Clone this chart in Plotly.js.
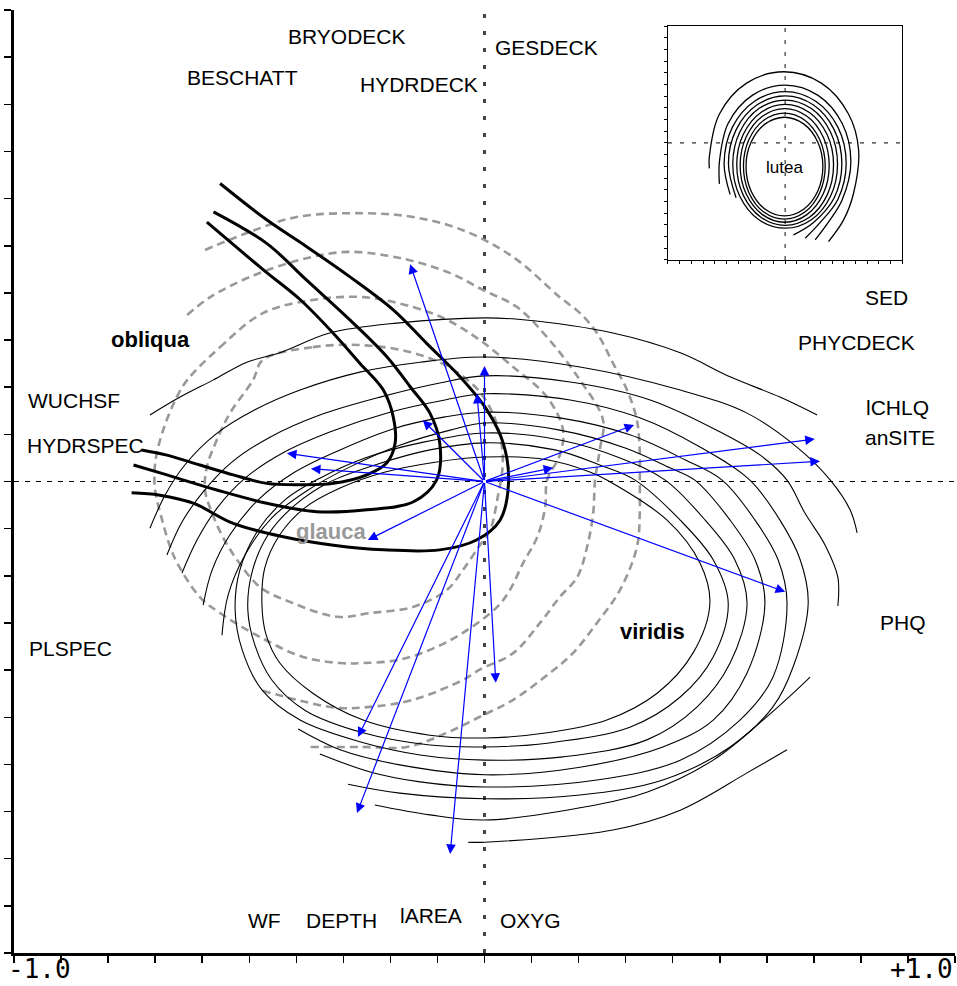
<!DOCTYPE html>
<html><head><meta charset="utf-8">
<script src="https://cdn.plot.ly/plotly-3.0.1.min.js"></script>
<style>html,body{margin:0;padding:0;background:#fff}#chart{width:957px;height:986px}</style>
</head><body><div id="chart"></div>
<script>
// ---------- obliqua (thick black response curves) ----------
const obliquaInnerX = [-0.590,-0.470,-0.392,-0.321,-0.265,-0.215,-0.194,-0.190,-0.208,-0.250,-0.321,-0.392,-0.463,-0.534,-0.605,-0.675,-0.729];
const obliquaInnerY = [0.550,0.449,0.386,0.314,0.251,0.194,0.137,0.081,0.039,0.014,-0.004,-0.007,-0.004,0.014,0.035,0.056,0.067];
const obliquaMidX = [-0.576,-0.463,-0.378,-0.279,-0.208,-0.158,-0.116,-0.095,-0.102,-0.151,-0.250,-0.357,-0.463,-0.569,-0.675,-0.746];
const obliquaMidY = [0.572,0.505,0.427,0.336,0.265,0.201,0.145,0.081,0.003,-0.043,-0.060,-0.064,-0.046,-0.018,0.014,0.035];
const obliquaOuterX = [-0.562,-0.463,-0.378,-0.286,-0.194,-0.123,-0.052,0.005,0.040,0.051,0.033,-0.017,-0.095,-0.215,-0.321,-0.428,-0.534,-0.619,-0.690,-0.750];
const obliquaOuterY = [0.632,0.555,0.498,0.434,0.364,0.293,0.222,0.152,0.081,-0.004,-0.082,-0.124,-0.145,-0.145,-0.135,-0.117,-0.089,-0.046,-0.029,-0.024];

// ---------- viridis (thin black contours) ----------
const viridis1TopX = [-0.711,-0.647,-0.577,-0.505,-0.435,-0.329,-0.186,0.001,0.082,0.273,0.416,0.522,0.628,0.707];
const viridis1TopY = [0.141,0.179,0.215,0.253,0.273,0.315,0.336,0.347,0.343,0.315,0.273,0.222,0.179,0.141];
const viridis1BotX = [-0.035,0.001,0.273,0.416,0.558,0.643];
const viridis1BotY = [-0.765,-0.765,-0.739,-0.697,-0.618,-0.569];
const viridis2TopX = [-0.711,-0.679,-0.637,-0.573,-0.488,-0.392,-0.265,-0.137,0.001,0.203,0.416,0.558,0.664,0.735,0.777,0.792];
const viridis2TopY = [-0.099,-0.029,0.035,0.099,0.152,0.194,0.232,0.253,0.264,0.243,0.194,0.145,0.073,0.003,-0.060,-0.109];
const viridis2BotX = [-0.233,-0.116,0.001,0.203,0.345,0.486,0.592,0.656,0.692];
const viridis2BotY = [-0.686,-0.707,-0.718,-0.692,-0.659,-0.591,-0.506,-0.449,-0.415];
const viridis3X = [-0.675,-0.643,-0.598,-0.537,-0.456,-0.350,-0.222,-0.095,0.001,0.182,0.352,0.501,0.586,0.643,0.681,0.724,0.751,0.751];
const viridis3Y = [-0.156,-0.086,-0.022,0.041,0.094,0.141,0.179,0.209,0.224,0.211,0.173,0.105,0.056,0.003,-0.067,-0.135,-0.203,-0.264];
const viridis4X = [-0.643,-0.611,-0.568,-0.509,-0.430,-0.329,-0.201,-0.084,0.001,0.182,0.330,0.458,0.564,0.628,0.671,0.688,0.656,0.613,0.522,0.379,0.203,0.001,-0.180,-0.290];
const viridis4Y = [-0.194,-0.124,-0.056,0.007,0.060,0.105,0.147,0.173,0.186,0.173,0.135,0.073,0.003,-0.082,-0.166,-0.258,-0.393,-0.478,-0.563,-0.633,-0.665,-0.673,-0.661,-0.642];
const viridis5X = [-0.598,-0.579,-0.541,-0.481,-0.403,-0.307,-0.190,-0.084,0.001,0.160,0.309,0.426,0.505,0.575,0.624,0.643,0.613,0.543,0.416,0.239,0.001,-0.137,-0.243,-0.350];
const viridis5Y = [-0.262,-0.188,-0.113,-0.039,0.020,0.067,0.113,0.137,0.147,0.135,0.099,0.046,0.003,-0.082,-0.166,-0.258,-0.415,-0.506,-0.591,-0.633,-0.648,-0.637,-0.616,-0.578];
const viridis6X = [-0.558,-0.545,-0.509,-0.452,-0.375,-0.286,-0.180,-0.073,0.001,0.160,0.299,0.394,0.447,0.522,0.575,0.596,0.558,0.486,0.379,0.203,0.001,-0.180,-0.307,-0.396];
const viridis6Y = [-0.326,-0.241,-0.156,-0.077,-0.018,0.031,0.077,0.109,0.124,0.109,0.071,0.029,0.003,-0.082,-0.166,-0.258,-0.406,-0.506,-0.563,-0.606,-0.622,-0.601,-0.569,-0.525];
const viridis7X = [-0.530,-0.520,-0.481,-0.424,-0.350,-0.254,-0.137,0.001,0.160,0.288,0.384,0.469,0.532,0.558,0.522,0.452,0.345,0.167,0.001,-0.137,-0.265,-0.392,-0.473,-0.515,-0.530];
const viridis7Y = [-0.273,-0.188,-0.103,-0.039,0.007,0.050,0.082,0.103,0.088,0.050,0.003,-0.082,-0.166,-0.258,-0.385,-0.478,-0.548,-0.584,-0.591,-0.580,-0.552,-0.506,-0.442,-0.357,-0.273];
const viridis8X = [-0.503,-0.494,-0.460,-0.403,-0.329,-0.233,-0.116,0.001,0.150,0.245,0.320,0.416,0.486,0.518,0.486,0.416,0.309,0.133,0.001,-0.116,-0.258,-0.382,-0.452,-0.488,-0.503];
const viridis8Y = [-0.273,-0.192,-0.113,-0.050,-0.001,0.035,0.067,0.082,0.067,0.035,0.003,-0.082,-0.166,-0.258,-0.372,-0.457,-0.521,-0.555,-0.563,-0.559,-0.533,-0.485,-0.421,-0.347,-0.273];
const viridis9X = [-0.473,-0.467,-0.435,-0.382,-0.307,-0.211,-0.105,0.001,0.133,0.224,0.260,0.388,0.458,0.479,0.443,0.367,0.260,0.133,0.001,-0.116,-0.258,-0.365,-0.435,-0.464,-0.473];
const viridis9Y = [-0.262,-0.183,-0.113,-0.056,-0.014,0.020,0.041,0.052,0.046,0.020,0.003,-0.082,-0.173,-0.258,-0.364,-0.449,-0.506,-0.533,-0.544,-0.538,-0.506,-0.449,-0.385,-0.326,-0.262];

// ---------- glauca (grey dashed contours) ----------
const glauca1X = [-0.594,-0.505,-0.399,-0.258,-0.152,-0.046,0.061,0.160,0.203,0.239,0.273,0.303,0.324,0.330,0.330,0.330,0.324,0.288,0.239,0.188,0.139,0.061,-0.010,-0.080,-0.165,-0.258,-0.371];
const glauca1Y = [0.491,0.527,0.561,0.569,0.561,0.533,0.476,0.391,0.357,0.315,0.251,0.194,0.130,0.060,0.003,-0.067,-0.139,-0.230,-0.300,-0.364,-0.406,-0.463,-0.499,-0.533,-0.563,-0.563,-0.563];
const glauca2X = [-0.632,-0.583,-0.498,-0.392,-0.292,-0.180,-0.073,-0.003,0.069,0.133,0.203,0.252,0.245,0.235,0.231,0.218,0.197,0.160,0.118,0.061,-0.010,-0.046,-0.152,-0.243,-0.313,-0.399,-0.477];
const glauca2Y = [0.353,0.391,0.434,0.470,0.487,0.474,0.442,0.406,0.370,0.306,0.215,0.130,0.067,0.003,-0.067,-0.139,-0.203,-0.245,-0.300,-0.364,-0.399,-0.421,-0.463,-0.478,-0.480,-0.463,-0.442];
const glauca3X = [-0.632,-0.562,-0.471,-0.365,-0.258,-0.152,-0.080,-0.010,0.061,0.133,0.167,0.160,0.133,0.129,0.112,0.082,0.054,0.027,-0.046,-0.116,-0.186,-0.258,-0.307,-0.386,-0.477,-0.562,-0.605,-0.651,-0.668,-0.685,-0.700,-0.700,-0.683,-0.654,-0.632];
const glauca3Y = [0.215,0.285,0.357,0.385,0.391,0.370,0.343,0.300,0.243,0.179,0.109,0.056,0.003,-0.054,-0.118,-0.173,-0.230,-0.266,-0.321,-0.357,-0.379,-0.385,-0.385,-0.372,-0.330,-0.279,-0.245,-0.177,-0.139,-0.082,-0.018,0.039,0.109,0.179,0.215];
const glauca4X = [-0.471,-0.365,-0.258,-0.152,-0.073,-0.010,0.027,0.039,0.027,0.012,-0.010,-0.046,-0.080,-0.152,-0.243,-0.313,-0.407,-0.477,-0.526,-0.556,-0.579,-0.594,-0.590,-0.569,-0.541,-0.492,-0.471];
const glauca4Y = [0.258,0.285,0.289,0.273,0.241,0.190,0.120,0.046,-0.039,-0.103,-0.135,-0.188,-0.230,-0.266,-0.279,-0.287,-0.258,-0.224,-0.166,-0.118,-0.067,-0.018,0.031,0.088,0.145,0.215,0.258];

// ---------- environmental arrows (tips; all start at origin) ----------
const arrowTipX = [-0.158,0.000,-0.016,-0.131,-0.420,-0.369,-0.248,0.318,0.702,0.713,0.146,0.639,0.024,-0.269,-0.271,-0.073];
const arrowTipY = [0.461,0.245,0.186,0.130,0.060,0.027,-0.124,0.120,0.090,0.043,0.029,-0.234,-0.427,-0.542,-0.703,-0.790];

// ---------- variable labels ----------
const varNames = ['BRYODECK','GESDECK','BESCHATT','HYDRDECK','SED','PHYCDECK','lCHLQ','anSITE','WUCHSF','HYDRSPEC','PLSPEC','PHQ','WF','DEPTH','lAREA','OXYG'];
const varX = [-0.294,0.131,-0.515,-0.139,0.855,0.790,0.877,0.883,-0.872,-0.847,-0.879,0.889,-0.468,-0.305,-0.114,0.097];
const varY = [0.943,0.921,0.856,0.841,0.391,0.294,0.158,0.094,0.171,0.077,-0.355,-0.298,-0.930,-0.930,-0.921,-0.930];

// ---------- species labels ----------
const speciesNames = ['obliqua','glauca','viridis'];
const speciesX = [-0.709,-0.326,0.358];
const speciesY = [0.302,-0.105,-0.319];
const speciesColor = ['#000000','#999999','#000000'];

// ---------- inset: lutea contours ----------
const lutea1X = [0.322,0.278,0.158,-0.006,-0.170,-0.290,-0.334,-0.290,-0.170,-0.006,0.158,0.278,0.322];
const lutea1Y = [-0.202,0.009,0.163,0.220,0.163,0.009,-0.202,-0.413,-0.567,-0.624,-0.567,-0.413,-0.202];
const lutea2X = [0.342,0.295,0.168,-0.007,-0.182,-0.309,-0.356,-0.309,-0.182,-0.007,0.168,0.295,0.342];
const lutea2Y = [-0.198,0.029,0.195,0.256,0.195,0.029,-0.198,-0.425,-0.591,-0.652,-0.591,-0.425,-0.198];
const lutea3X = [0.376,0.325,0.186,-0.004,-0.194,-0.333,-0.384,-0.333,-0.194,-0.004,0.186,0.325,0.376];
const lutea3Y = [-0.192,0.051,0.229,0.294,0.229,0.051,-0.192,-0.435,-0.613,-0.678,-0.613,-0.435,-0.192];
const lutea4X = [0.413,0.358,0.207,0.000,-0.207,-0.358,-0.413,-0.358,-0.207,0.000,0.207,0.358,0.413];
const lutea4Y = [-0.187,0.072,0.261,0.330,0.261,0.072,-0.187,-0.446,-0.635,-0.704,-0.635,-0.446,-0.187];
const lutea5X = [0.447,0.387,0.224,0.000,-0.224,-0.387,-0.447,-0.387,-0.224,0.000,0.224,0.387,0.447];
const lutea5Y = [-0.181,0.093,0.294,0.367,0.294,0.093,-0.181,-0.455,-0.656,-0.729,-0.656,-0.455,-0.181];
const lutea6X = [-0.419,-0.484,-0.419,-0.242,0.000,0.242,0.419,0.484,0.419,0.242,0.071];
const lutea6Y = [-0.468,-0.178,0.112,0.324,0.402,0.324,0.112,-0.178,-0.468,-0.680,-0.786];
const lutea7X = [-0.470,-0.521,-0.451,-0.261,0.000,0.261,0.451,0.521,0.451,0.290,0.171];
const lutea7Y = [-0.440,-0.174,0.133,0.357,0.439,0.357,0.133,-0.174,-0.481,-0.690,-0.815];
const lutea8X = [-0.561,-0.561,-0.486,-0.281,0.000,0.281,0.486,0.561,0.486,0.360,0.256];
const lutea8Y = [-0.350,-0.160,0.168,0.407,0.495,0.407,0.168,-0.160,-0.488,-0.690,-0.829];
const lutea9X = [-0.647,-0.647,-0.562,-0.329,-0.010,0.309,0.542,0.627,0.584,0.499,0.370];
const lutea9Y = [-0.217,-0.117,0.246,0.512,0.609,0.512,0.246,-0.060,-0.430,-0.658,-0.843];

// ---------- build ----------
const traces = [];
function addCurve(xs, ys, color, width, dash, xa, ya) {
  traces.push({x: xs, y: ys, mode: 'lines', hoverinfo: 'skip',
    xaxis: xa || 'x', yaxis: ya || 'y',
    line: {color: color, width: width, dash: dash || 'solid', shape: 'spline', smoothing: 1}});
}
const greyDash = '8px,5px';
[[glauca1X,glauca1Y],[glauca2X,glauca2Y],[glauca3X,glauca3Y],[glauca4X,glauca4Y]].forEach(c => addCurve(c[0], c[1], '#999999', 2.6, greyDash));
[[viridis1TopX,viridis1TopY],[viridis1BotX,viridis1BotY],[viridis2TopX,viridis2TopY],[viridis2BotX,viridis2BotY],
 [viridis3X,viridis3Y],[viridis4X,viridis4Y],[viridis5X,viridis5Y],[viridis6X,viridis6Y],
 [viridis7X,viridis7Y],[viridis8X,viridis8Y],[viridis9X,viridis9Y]].forEach(c => addCurve(c[0], c[1], '#000000', 1.1));
[[obliquaInnerX,obliquaInnerY],[obliquaMidX,obliquaMidY],[obliquaOuterX,obliquaOuterY]].forEach(c => addCurve(c[0], c[1], '#000000', 3));
[[lutea1X,lutea1Y],[lutea2X,lutea2Y],[lutea3X,lutea3Y],[lutea4X,lutea4Y],[lutea5X,lutea5Y],
 [lutea6X,lutea6Y],[lutea7X,lutea7Y],[lutea8X,lutea8Y],[lutea9X,lutea9Y]].forEach(c => addCurve(c[0], c[1], '#000000', 1.3, 'solid', 'x2', 'y2'));

const annotations = [];
const labelFont = 'Liberation Sans, Arial, sans-serif';
arrowTipX.forEach((tx, i) => {
  annotations.push({x: tx, y: arrowTipY[i], ax: 0, ay: 0, xref: 'x', yref: 'y', axref: 'x', ayref: 'y',
    text: '', showarrow: true, arrowhead: 2, arrowsize: 1.6, arrowwidth: 1.2, arrowcolor: '#0000ff', standoff: 0, startstandoff: 0});
});
varNames.forEach((t, i) => {
  annotations.push({x: varX[i], y: varY[i], xref: 'x', yref: 'y', text: t, showarrow: false,
    xanchor: 'center', yanchor: 'middle', font: {family: labelFont, size: 21, color: '#000'}});
});
speciesNames.forEach((t, i) => {
  annotations.push({x: speciesX[i], y: speciesY[i], xref: 'x', yref: 'y', text: '<b>' + t + '</b>', showarrow: false,
    xanchor: 'center', yanchor: 'middle', font: {family: labelFont, size: 22, color: speciesColor[i]}});
});
annotations.push({x: -0.009, y: -0.211, xref: 'x2', yref: 'y2', text: 'lutea', showarrow: false,
  xanchor: 'center', yanchor: 'middle', font: {family: labelFont, size: 17, color: '#000'}});
// axis end labels
const monoFont = 'DejaVu Sans Mono, Liberation Mono, monospace';
annotations.push({x: -0.009, y: -0.0345, xref: 'paper', yref: 'paper', text: '-1.0', showarrow: false,
  xanchor: 'left', yanchor: 'bottom', font: {family: monoFont, size: 26, color: '#000'}});
annotations.push({x: 1.0, y: -0.0345, xref: 'paper', yref: 'paper', text: '+1.0', showarrow: false,
  xanchor: 'right', yanchor: 'bottom', font: {family: monoFont, size: 26, color: '#000'}});
// inset axis end labels
const insetLab = {family: monoFont, size: 7, color: '#777'};
annotations.push({x: -1, y: -1.05, xref: 'x2', yref: 'y2', text: '-1.0', showarrow: false, xanchor: 'left', yanchor: 'top', font: insetLab});
annotations.push({x: 1, y: -1.05, xref: 'x2', yref: 'y2', text: '+1.0', showarrow: false, xanchor: 'right', yanchor: 'top', font: insetLab});
annotations.push({x: -1.08, y: 1, xref: 'x2', yref: 'y2', text: '+1.0', showarrow: false, xanchor: 'right', yanchor: 'top', textangle: -90, font: insetLab});
annotations.push({x: -1.08, y: -1, xref: 'x2', yref: 'y2', text: '-1.0', showarrow: false, xanchor: 'right', yanchor: 'bottom', textangle: -90, font: insetLab});

const shapes = [
  {type: 'line', xref: 'x', yref: 'y', x0: 0, x1: 0, y0: -1, y1: 1, layer: 'below', line: {color: '#444', width: 3, dash: '4px,13px'}},
  {type: 'line', xref: 'x', yref: 'y', x0: -1, x1: 1, y0: 0, y1: 0, layer: 'below', line: {color: '#000', width: 1, dash: '5px,6px'}},
  {type: 'line', xref: 'x2', yref: 'y2', x0: 0, x1: 0, y0: -1, y1: 1, layer: 'below', line: {color: '#333', width: 1.2, dash: '4px,8px'}},
  {type: 'line', xref: 'x2', yref: 'y2', x0: -1, x1: 1, y0: 0, y1: 0, layer: 'below', line: {color: '#333', width: 1.2, dash: '4px,8px'}}
];

const mainAxis = {range: [-1, 1], showgrid: false, zeroline: false, showline: true, linewidth: 3, linecolor: '#000',
  ticks: 'outside', ticklen: 7, tickwidth: 1.5, tickcolor: '#000', tickmode: 'linear', tick0: -1, dtick: 0.1, showticklabels: false, fixedrange: true};
const insetAxis = {range: [-1, 1], showgrid: false, zeroline: false, showline: true, mirror: true, linewidth: 1, linecolor: '#000',
  ticks: 'outside', ticklen: 3, tickwidth: 1, tickcolor: '#000', tickmode: 'linear', tick0: -1, dtick: 0.1, showticklabels: false, fixedrange: true};

const layout = {
  width: 957, height: 986,
  margin: {l: 14, r: 2, t: 10, b: 33},
  paper_bgcolor: '#fff', plot_bgcolor: '#fff', showlegend: false,
  xaxis: Object.assign({}, mainAxis),
  yaxis: Object.assign({}, mainAxis),
  xaxis2: Object.assign({}, insetAxis, {domain: [0.695, 0.944], anchor: 'y2'}),
  yaxis2: Object.assign({}, insetAxis, {domain: [0.735, 0.983], anchor: 'x2'}),
  annotations: annotations,
  shapes: shapes
};
Plotly.newPlot('chart', traces, layout, {staticPlot: true, displayModeBar: false});
</script></body></html>
